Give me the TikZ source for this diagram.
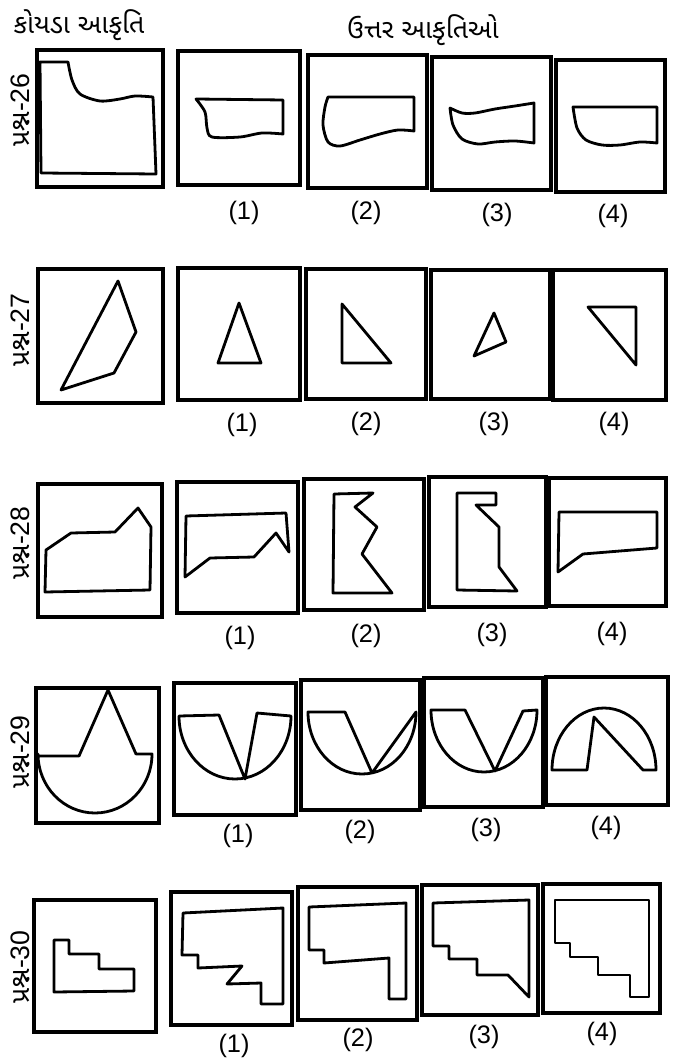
\documentclass[tikz,border=0pt]{standalone}
\usepackage{fontspec}
\setmainfont{Liberation Sans}
\newfontfamily\gujfont[Script=Gujarati]{Noto Sans Gujarati UI}
\usepackage{tikz}

\begin{document}
\begin{tikzpicture}[
    x=0.75pt, y=-0.75pt,
    frame/.style={draw, line width=2.3pt},
    figure/.style={draw, line width=2.1pt, line join=round},
    num/.style={font=\fontsize{19}{21}\selectfont},
    head/.style={font=\gujfont\fontsize{20}{24}\selectfont},
    qlabel/.style={rotate=90, font=\fontsize{20}{22}\selectfont}
]
\useasboundingbox (0,0) rectangle (672,1059);

% Headings
\node (puzzlehead) [head] at (79,25) {કોયડા આકૃતિ};
\node (answerhead) [head] at (423,30) {ઉત્તર આકૃતિઓ};

% Row labels
\node (q26) [qlabel] at (20,110) {{\gujfont પ્રશ્ન}-26};
\node (q27) [qlabel] at (20,330) {{\gujfont પ્રશ્ન}-27};
\node (q28) [qlabel] at (20,543) {{\gujfont પ્રશ્ન}-28};
\node (q29) [qlabel] at (20,752) {{\gujfont પ્રશ્ન}-29};
\node (q30) [qlabel] at (20,967) {{\gujfont પ્રશ્ન}-30};

% Question 26
\draw [frame] (37,50) rectangle (163,187);
\draw [frame] (178,51) rectangle (300,185);
\draw [frame] (308,55) rectangle (427,188);
\draw [frame] (432,57) rectangle (551,190);
\draw [frame] (556,60) rectangle (665,192);
\draw [figure] (40,62) -- (68,62) -- plot[smooth] coordinates {(68,62) (72,80) (80,94) (100,101) (120,99) (135,96) (153,97)} -- (156,174) -- (41,173) -- cycle;
\draw [figure] (196,99) -- (283,100) -- (283,134) -- plot[smooth] coordinates {(283,134) (262,133) (240,137) (212,137) (207,128) (205,112) (196,99)} -- cycle;
\draw [figure] (328,97) -- (414,97) -- (414,131) -- plot[smooth] coordinates {(414,131) (398,130) (380,134) (360,140) (340,146) (328,142) (323,125) (325,107) (328,97)} -- cycle;
\draw [figure] (534,103) -- (534,143) -- plot[smooth] coordinates {(534,143) (515,141) (495,142) (478,144) (462,139) (453,125) (450,108)} -- plot[smooth] coordinates {(450,108) (462,113) (475,113) (495,109) (515,106) (534,103)} -- cycle;
\draw [figure] (573,107) -- (657,107) -- (657,143) -- plot[smooth] coordinates {(657,143) (640,142) (620,145) (602,145) (586,140) (577,128) (573,107)} -- cycle;
\node (a26n1) [num] at (244,213) {(1)};
\node (a26n2) [num] at (366,213) {(2)};
\node (a26n3) [num] at (497,215) {(3)};
\node (a26n4) [num] at (613,216) {(4)};

% Question 27
\draw [frame] (38,269) rectangle (163,403);
\draw [frame] (178,268) rectangle (300,400);
\draw [frame] (306,269) rectangle (426,399);
\draw [frame] (431,270) rectangle (550,399);
\draw [frame] (553,270) rectangle (666,400);
\draw [figure] (118,281) -- (136,332) -- (114,373) -- (61,390) -- cycle;
\draw [figure] (239,303) -- (261,363) -- (218,363) -- cycle;
\draw [figure] (342,304) -- (391,363) -- (342,363) -- cycle;
\draw [figure] (494,313) -- (506,342) -- (474,356) -- cycle;
\draw [figure] (588,307) -- (636,307) -- (636,365) -- cycle;
\node (a27n1) [num] at (242,425) {(1)};
\node (a27n2) [num] at (366,424) {(2)};
\node (a27n3) [num] at (494,424) {(3)};
\node (a27n4) [num] at (614,424) {(4)};

% Question 28
\draw [frame] (38,484) rectangle (162,617);
\draw [frame] (177,482) rectangle (298,613);
\draw [frame] (304,479) rectangle (424,610);
\draw [frame] (429,477) rectangle (546,607);
\draw [frame] (549,478) rectangle (666,606);
\draw [figure] (46,550) -- (71,533) -- (115,532) -- (138,508) -- (151,527) -- (150,590) -- (45,592) -- cycle;
\draw [figure] (186,516) -- (286,513) -- (289,552) -- (276,533) -- (254,557) -- (210,558) -- (185,577) -- cycle;
\draw [figure] (334,494) -- (373,493) -- (355,507) -- (377,527) -- (362,554) -- (392,593) -- (333,593) -- cycle;
\draw [figure] (457,493) -- (496,493) -- (496,505) -- (476,505) -- (499,527) -- (499,567) -- (517,591) -- (457,590) -- cycle;
\draw [figure] (559,512) -- (657,512) -- (657,548) -- (583,554) -- (558,572) -- cycle;
\node (a28n1) [num] at (240,638) {(1)};
\node (a28n2) [num] at (366,636) {(2)};
\node (a28n3) [num] at (492,635) {(3)};
\node (a28n4) [num] at (612,634) {(4)};

% Question 29
\draw [frame] (36,688) rectangle (159,823);
\draw [frame] (174,683) rectangle (296,815);
\draw [frame] (301,680) rectangle (420,810);
\draw [frame] (424,678) rectangle (543,807);
\draw [frame] (546,677) rectangle (668,805);
\draw [figure] (38,756) -- (79,756) -- (108,690) -- (136,754) -- (152,754) arc[start angle=0, end angle=180, x radius=57, y radius=59] -- cycle;
\draw [figure] (179,716) -- (219,715) -- (245,779) -- (257,713) -- (291,716) arc[start angle=0, end angle=180, x radius=56, y radius=63] -- cycle;
\draw [figure] (308,712) -- (345,712) -- (372,773) -- (416,712) arc[start angle=0, end angle=180, x radius=54, y radius=62] -- cycle;
\draw [figure] (431,710) -- (465,710) -- (495,771) -- (523,711) -- (537,710) arc[start angle=0, end angle=180, x radius=53, y radius=62] -- cycle;
\draw [figure] (552,770) -- (587,770) -- (594,717) -- (643,770) -- (656,770) arc[start angle=0, end angle=-180, x radius=52, y radius=62] -- cycle;
\node (a29n1) [num] at (238,836) {(1)};
\node (a29n2) [num] at (360,832) {(2)};
\node (a29n3) [num] at (486,830) {(3)};
\node (a29n4) [num] at (606,828) {(4)};

% Question 30
\draw [frame] (34,900) rectangle (156,1032);
\draw [frame] (171,892) rectangle (292,1025);
\draw [frame] (298,887) rectangle (417,1020);
\draw [frame] (422,885) rectangle (538,1015);
\draw [frame] (543,884) rectangle (660,1013);
\draw [figure] (54,940) -- (69,940) -- (69,954) -- (99,954) -- (99,969) -- (134,969) -- (134,991) -- (54,992) -- cycle;
\draw [figure] (183,913) -- (283,908) -- (283,1004) -- (261,1004) -- (261,983) -- (227,984) -- (242,966) -- (198,968) -- (198,955) -- (182,955) -- cycle;
\draw [figure] (309,907) -- (406,903) -- (406,999) -- (389,999) -- (389,958) -- (324,963) -- (324,950) -- (309,950) -- cycle;
\draw [figure] (433,903) -- (529,900) -- (529,997) -- (508,975) -- (477,975) -- (477,959) -- (449,959) -- (449,946) -- (433,946) -- cycle;
\draw [figure] (555,900) -- (649,900) -- (649,997) -- (630,997) -- (630,975) -- (598,975) -- (598,957) -- (570,957) -- (570,943) -- (555,943) -- cycle;
\node (a30n1) [num] at (234,1046) {(1)};
\node (a30n2) [num] at (358,1040) {(2)};
\node (a30n3) [num] at (484,1037) {(3)};
\node (a30n4) [num] at (602,1034) {(4)};

\end{tikzpicture}
\end{document}
